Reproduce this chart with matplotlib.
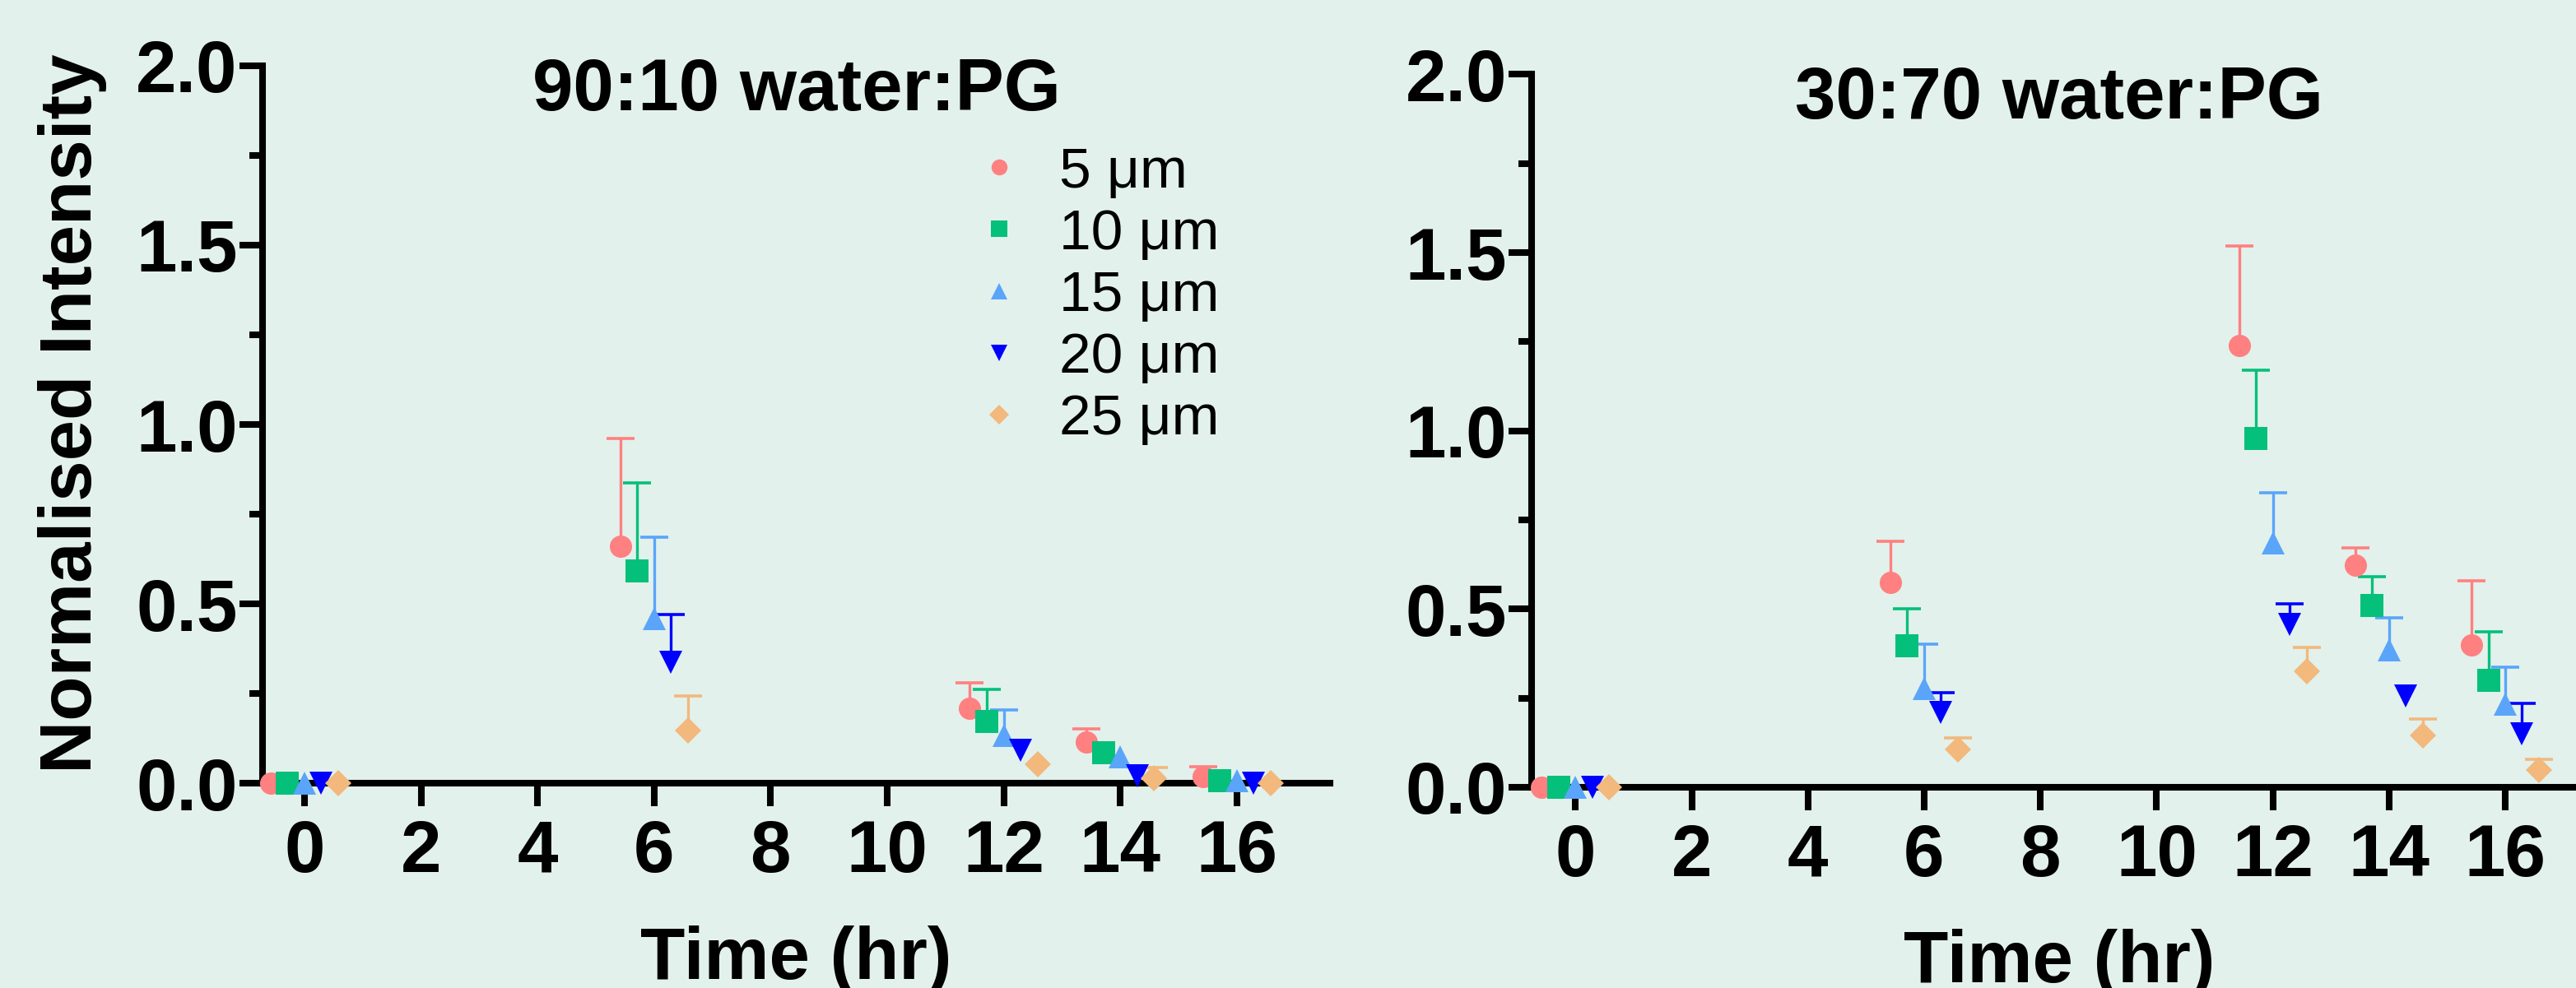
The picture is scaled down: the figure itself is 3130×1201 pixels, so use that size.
import numpy as np
import matplotlib.pyplot as plt
from matplotlib.lines import Line2D
from matplotlib.ticker import MultipleLocator, FormatStrFormatter

plt.rcParams['font.family'] = ['Liberation Sans', 'DejaVu Sans']

# time points (hr) and particle depths
times = np.array([0, 6, 12, 14, 16])
depth_labels = ['5 μm', '10 μm', '15 μm', '20 μm', '25 μm']

# 90:10 water:PG - mean normalised intensity, one row per depth
mean_90_10 = [
    [0, 0.661, 0.208, 0.115, 0.018],
    [0, 0.592, 0.172, 0.084, 0.006],
    [0, 0.459, 0.134, 0.073, 0.006],
    [0, 0.337, 0.091, 0.021, 0.0],
    [0, 0.146, 0.053, 0.014, 0.0],
]
# upper error (SD), 0 = no visible bar
err_90_10 = [
    [0, 0.299, 0.072, 0.036, 0.027],
    [0, 0.245, 0.090, 0, 0],
    [0, 0.226, 0.070, 0, 0],
    [0, 0.134, 0, 0, 0],
    [0, 0.097, 0, 0.030, 0],
]

# 30:70 water:PG
mean_30_70 = [
    [0, 0.575, 1.239, 0.624, 0.399],
    [0, 0.397, 0.979, 0.511, 0.300],
    [0, 0.277, 0.686, 0.385, 0.232],
    [0, 0.210, 0.456, 0.256, 0.150],
    [0, 0.107, 0.325, 0.146, 0.049],
]
err_30_70 = [
    [0, 0.116, 0.280, 0.048, 0.180],
    [0, 0.104, 0.191, 0.080, 0.136],
    [0, 0.125, 0.141, 0.090, 0.105],
    [0, 0.055, 0.058, 0, 0.085],
    [0, 0.032, 0.068, 0.046, 0.030],
]

BG = '#E2F1EC'
colors = ['#FF8080', '#05C07A', '#5AA5FA', '#0000FF', '#F2B87C']
markers = ['o', 's', '^', 'v', 'D']
msizes = [19.5, 19.5, 19.5, 19.5, 16.5]
dodge = [-0.58, -0.29, 0.0, 0.29, 0.58]

LW = 5.8
FS = 64


def draw_panel(ax, means, errs, title, xlim):
    ax.set_facecolor(BG)
    for i in range(len(depth_labels)):
        m = np.array(means[i], dtype=float)
        e = np.array(errs[i], dtype=float)
        e = np.where(e > 0, e, np.nan)
        cont = ax.errorbar(times + dodge[i], m, yerr=[np.zeros_like(e), e],
                           fmt=markers[i], color=colors[i], ecolor=colors[i],
                           elinewidth=2.4, capsize=12.5, capthick=2.6,
                           zorder=3)
        data_line, caplines, barcols = cont
        data_line.set_markersize(msizes[i])
        data_line.set_markeredgewidth(0)
        # only the upper cap is shown
        if len(caplines) == 2:
            low = min(caplines, key=lambda c: np.nanmean(c.get_ydata()))
            low.set_visible(False)
        for art in cont.get_children():
            art.set_clip_on(False)

    ax.set_xlim(*xlim)
    ax.set_ylim(0, 2.0)
    ax.set_xticks(range(0, 17, 2))
    ax.yaxis.set_major_locator(MultipleLocator(0.5))
    ax.yaxis.set_minor_locator(MultipleLocator(0.25))
    ax.yaxis.set_major_formatter(FormatStrFormatter('%.1f'))

    for side in ['top', 'right']:
        ax.spines[side].set_visible(False)
    for side in ['left', 'bottom']:
        ax.spines[side].set_linewidth(LW)
        ax.spines[side].set_color('black')

    ax.tick_params(axis='both', which='major', width=LW, length=20, labelsize=FS, color='black')
    ax.tick_params(axis='y', which='minor', width=LW, length=11.5)
    ax.tick_params(axis='y', which='major', pad=2)
    ax.tick_params(axis='x', which='major', pad=11)
    for lab in ax.get_xticklabels() + ax.get_yticklabels():
        lab.set_fontweight('bold')

    ax.text(0.5, 0.938, title, transform=ax.transAxes, ha='center', va='baseline',
            fontsize=FS, fontweight='bold')
    ax.set_xlabel('Time (hr)', fontsize=FS, fontweight='bold')
    ax.xaxis.set_label_coords(0.5, -0.198)


fig = plt.figure(figsize=(31.3, 12.01), dpi=100, facecolor=BG)
ax1 = fig.add_axes([0.1019, 0.2073, 0.4144, 0.7261])
ax2 = fig.add_axes([0.5947, 0.2032, 0.4094, 0.7215])

draw_panel(ax1, mean_90_10, err_90_10, '90:10 water:PG', (-0.72, 17.6))
draw_panel(ax2, mean_30_70, err_30_70, '30:70 water:PG', (-0.75, 17.4))

ax1.set_ylabel('Normalised Intensity', fontsize=FS, fontweight='bold')
ax1.yaxis.set_label_coords(-0.146, 0.515)

handles = [Line2D([], [], linestyle='none', marker=mk, color=c, mew=0,
                  ms=(14 if mk != 'D' else 12))
           for mk, c in zip(markers, colors)]
leg = ax1.legend(handles, depth_labels, loc='upper left', bbox_to_anchor=(0.6636, 0.888),
                 frameon=False, fontsize=50, borderaxespad=0, borderpad=0,
                 labelspacing=0.16, handlelength=1.0, handletextpad=0.55)

fig.savefig('out.png', dpi=100, facecolor=BG)
